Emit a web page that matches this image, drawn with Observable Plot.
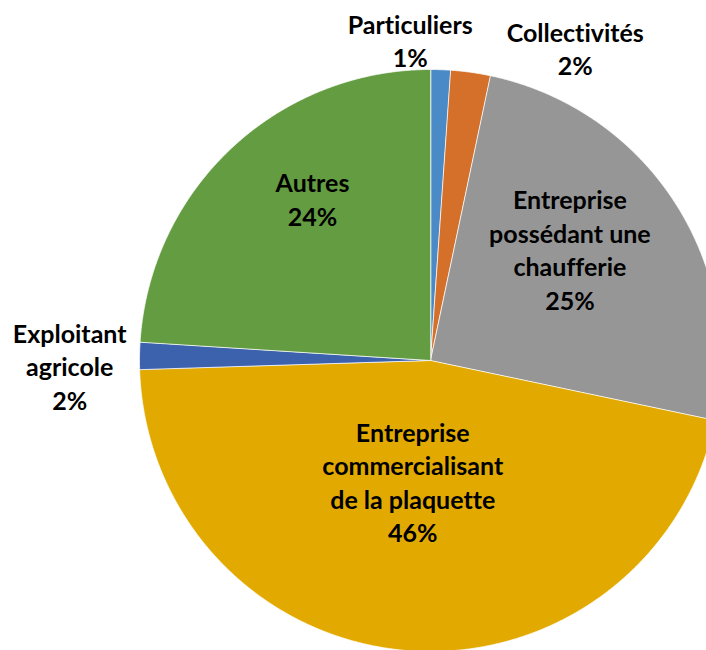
<!DOCTYPE html>
<html>
<head>
<meta charset="utf-8">
<script src="https://cdn.jsdelivr.net/npm/d3@7"></script>
<script src="https://cdn.jsdelivr.net/npm/@observablehq/plot@0.6"></script>
<style>
  html, body { margin: 0; padding: 0; background: #fff; overflow: hidden; }
  #chart svg { display: block; overflow: hidden; }
  #chart svg text { font-variant-ligatures: none; font-feature-settings: "liga" 0; }
</style>
</head>
<body>
<div id="chart"></div>
<script>
// ---- data ----
const categories = [
  "Particuliers",
  "Collectivités",
  "Entreprise\npossédant une\nchaufferie",
  "Entreprise\ncommercialisant\nde la plaquette",
  "Exploitant\nagricole",
  "Autres"
];
const shares = [1.1, 2.2, 25.0, 46.2, 1.5, 24.0];
const colors = ["#4A8AC6", "#D5702A", "#969696", "#E2AA00", "#3D62AD", "#639C41"];

// ---- layout (label placement relative to slice mid-angle) ----
const labelRadius = [1.105, 1.185, 0.614, 0.42, 1.24, 0.69];
const labelAngleOffset = [-5.6, 16.9, -5.6, 3.3, -1.7, 7.2];

const W = 706, H = 650;
const cx = 430, cy = 360, R = 291;

const pie = d3.pie().sort(null).value(d => d)(shares);

const rad = Math.PI / 180;
const slicePts = [];
pie.forEach((p, i) => {
  const a0 = p.startAngle, a1 = p.endAngle;
  const n = Math.max(2, Math.ceil((a1 - a0) / (0.25 * rad)));
  slicePts.push({cat: categories[i], x: cx, y: cy});
  for (let k = 0; k <= n; k++) {
    const a = a0 + (a1 - a0) * k / n;
    slicePts.push({cat: categories[i], x: cx + R * Math.sin(a), y: cy - R * Math.cos(a)});
  }
});

const labels = pie.map((p, i) => {
  const mid = (p.startAngle + p.endAngle) / 2 + labelAngleOffset[i] * rad;
  const r = labelRadius[i] * R;
  return {
    text: categories[i] + "\n" + Math.round(shares[i]) + "%",
    x: cx + r * Math.sin(mid),
    y: cy - r * Math.cos(mid)
  };
});

const fontSize = 25;
const chart = Plot.plot({
  width: W,
  height: H,
  margin: 0,
  x: {domain: [0, W], range: [0, W], axis: null},
  y: {domain: [0, H], range: [0, H], axis: null},
  color: {domain: categories, range: colors},
  style: {background: "#fff"},
  marks: [
    Plot.line(slicePts, {
      x: "x", y: "y", z: "cat",
      fill: "cat",
      stroke: "#fff",
      strokeWidth: 0.75,
      curve: "linear-closed"
    }),
    Plot.text(labels, {
      x: "x", y: "y", text: "text",
      fontSize: fontSize,
      fontWeight: "bold",
      fontFamily: "Lato, 'DejaVu Sans', sans-serif",
      fill: "#000",
      lineHeight: 33.5 / fontSize,
      textAnchor: "middle",
      lineAnchor: "middle"
    })
  ]
});
document.getElementById("chart").appendChild(chart);
</script>
</body>
</html>
